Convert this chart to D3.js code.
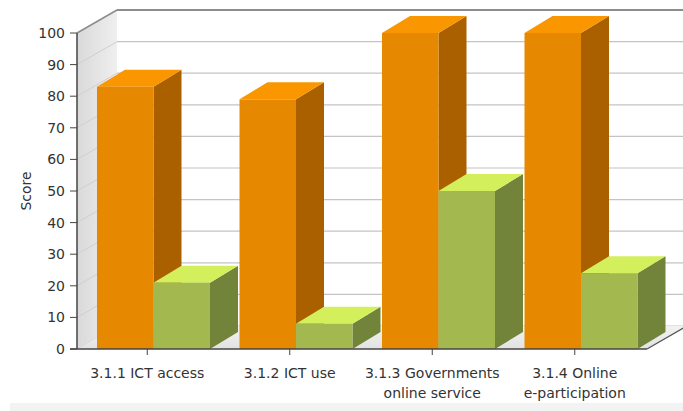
<!DOCTYPE html>
<html>
    <head>
        <meta charset='utf-8'>
        <title>Score 3D bars</title>
        <script src='https://cdn.jsdelivr.net/npm/d3@7/dist/d3.min.js'></script>
        <style>
            body { margin:0; background:#fff; }
            svg text { font-family:"DejaVu Sans", Verdana, sans-serif; fill:#333; }
        </style>
    </head>
    <body>
        <div id='chart'></div>
        <script>
            // data
            var categories = ["3.1.1 ICT access", "3.1.2 ICT use", "3.1.3 Governments online service", "3.1.4 Online e-participation"];
            var categoryLines = [["3.1.1 ICT access"], ["3.1.2 ICT use"], ["3.1.3 Governments", "online service"], ["3.1.4 Online", "e-participation"]];
            var orangeValues = [83, 79, 100, 100];
            var greenValues = [21, 8, 50, 24];
            var yTicks = [0, 10, 20, 30, 40, 50, 60, 70, 80, 90, 100];

            var w = 683;
            var h = 411;
            // note: "top" is taken by window.top, so plot edges get their own names
            var plotL = 77, plotR = 647, plotT = 33, plotB = 349;
            var depthX = 40, depthY = -23;   // wall depth
            var barDX = 28, barDY = -17;     // bar depth

            var svg = d3.select("#chart")
                        .append("svg")
                        .attr("width", w)
                        .attr("height", h);

            var y = d3.scaleLinear().domain([0, 100]).range([plotB, plotT]);
            var x = d3.scaleBand().domain(categories).range([plotL, plotR]).padding(0);
            var bw = 56.5, barOff = 20;

            var line = d3.line();

            // faint band at the very bottom
            svg.append("rect").attr("x", 10).attr("y", 403).attr("width", w - 10).attr("height", 8)
                .attr("fill", "#f3f3f3");

            var defs = svg.append("defs");
            var wallGrad = defs.append("linearGradient").attr("id", "wallGrad")
                .attr("x1", "0%").attr("x2", "100%");
            wallGrad.append("stop").attr("offset", "0%").attr("stop-color", "#d9d9d9");
            wallGrad.append("stop").attr("offset", "100%").attr("stop-color", "#efefef");
            var floorGrad = defs.append("linearGradient").attr("id", "floorGrad")
                .attr("x1", "0%").attr("x2", "0%").attr("y1", "0%").attr("y2", "100%");
            floorGrad.append("stop").attr("offset", "0%").attr("stop-color", "#f2f2f2");
            floorGrad.append("stop").attr("offset", "100%").attr("stop-color", "#e2e2e2");

            // back wall
            svg.append("rect")
                .attr("x", plotL + depthX).attr("y", plotT + depthY)
                .attr("width", w - plotL - depthX).attr("height", plotB - plotT)
                .attr("fill", "#fff");

            svg.selectAll("line.grid")
                .data(yTicks.slice(0, -1))
                .enter()
                .append("line")
                .attr("class", "grid")
                .attr("x1", plotL + depthX).attr("x2", w)
                .attr("y1", function(d) { return y(d) + depthY; })
                .attr("y2", function(d) { return y(d) + depthY; })
                .attr("stroke", "#c4c4c4").attr("stroke-width", 1.2);

            // top edge of back wall
            svg.append("line")
                .attr("x1", plotL + depthX).attr("x2", w)
                .attr("y1", y(100) + depthY).attr("y2", y(100) + depthY)
                .attr("stroke", "#8c8c8c").attr("stroke-width", 2);

            // left wall
            svg.append("path")
                .attr("d", line([[plotL, plotT], [plotL + depthX, plotT + depthY], [plotL + depthX, plotB + depthY], [plotL, plotB]]) + "Z")
                .attr("fill", "url(#wallGrad)");

            svg.selectAll("line.sidegrid")
                .data(yTicks)
                .enter()
                .append("line")
                .attr("class", "sidegrid")
                .attr("x1", plotL).attr("x2", plotL + depthX)
                .attr("y1", function(d) { return y(d); })
                .attr("y2", function(d) { return y(d) + depthY; })
                .attr("stroke", function(d) { return d === 100 ? "#8c8c8c" : "#cfcfcf"; })
                .attr("stroke-width", function(d) { return d === 100 ? 1.5 : 1; });

            // floor
            svg.append("path")
                .attr("d", line([[plotL, plotB], [plotR, plotB], [plotR + depthX, plotB + depthY], [plotL + depthX, plotB + depthY]]) + "Z")
                .attr("fill", "url(#floorGrad)");

            svg.append("line")
                .attr("x1", plotR).attr("y1", plotB)
                .attr("x2", plotR + depthX).attr("y2", plotB + depthY)
                .attr("stroke", "#555").attr("stroke-width", 1.3);

            // 3D bars
            function drawBar(g, x0, v, colors) {
                var x1 = x0 + bw;
                var yt = y(v);
                g.append("path")   // side
                    .attr("d", line([[x1, yt], [x1 + barDX, yt + barDY], [x1 + barDX, plotB + barDY], [x1, plotB]]) + "Z")
                    .attr("fill", colors.side);
                g.append("path")   // top
                    .attr("d", line([[x0, yt], [x1, yt], [x1 + barDX, yt + barDY], [x0 + barDX, yt + barDY]]) + "Z")
                    .attr("fill", colors.top);
                g.append("rect")   // front
                    .attr("x", x0).attr("y", yt)
                    .attr("width", bw).attr("height", plotB - yt)
                    .attr("fill", colors.front);
            }

            var orange = {front: "#e78900", top: "#fa9700", side: "#ab6000"};
            var green = {front: "#a3b94f", top: "#d3ef5c", side: "#71843a"};

            var bars = svg.append("g");
            categories.forEach(function(c, i) {
                var x0 = x(c) + barOff;
                drawBar(bars, x0, orangeValues[i], orange);
                drawBar(bars, x0 + bw, greenValues[i], green);
            });

            // axes
            svg.append("line")
                .attr("x1", plotL).attr("x2", plotL).attr("y1", plotT).attr("y2", plotB)
                .attr("stroke", "#444").attr("stroke-width", 1.5);
            svg.append("line")
                .attr("x1", plotL - 7).attr("x2", plotR).attr("y1", plotB).attr("y2", plotB)
                .attr("stroke", "#444").attr("stroke-width", 1.5);

            svg.selectAll("line.ytick")
                .data(yTicks)
                .enter()
                .append("line")
                .attr("class", "ytick")
                .attr("x1", plotL - 7).attr("x2", plotL)
                .attr("y1", function(d) { return y(d); })
                .attr("y2", function(d) { return y(d); })
                .attr("stroke", "#444");

            svg.selectAll("text.ytick")
                .data(yTicks)
                .enter()
                .append("text")
                .attr("class", "ytick")
                .attr("x", 65)
                .attr("y", function(d) { return y(d) + 5; })
                .attr("text-anchor", "end")
                .attr("font-size", "14px")
                .text(function(d) { return d; });

            svg.selectAll("line.xtick")
                .data(categories)
                .enter()
                .append("line")
                .attr("class", "xtick")
                .attr("x1", function(d) { return x(d) + x.bandwidth() / 2 - 1; })
                .attr("x2", function(d) { return x(d) + x.bandwidth() / 2 - 1; })
                .attr("y1", plotB).attr("y2", plotB + 6)
                .attr("stroke", "#444");

            var xl = svg.selectAll("text.xlab")
                .data(categories)
                .enter()
                .append("text")
                .attr("class", "xlab")
                .attr("text-anchor", "middle")
                .attr("font-size", "14px");

            xl.selectAll("tspan")
                .data(function(d, i) { return categoryLines[i].map(function(t) { return {c: d, t: t}; }); })
                .enter()
                .append("tspan")
                .attr("x", function(d) { return x(d.c) + x.bandwidth() / 2 - 1; })
                .attr("y", function(d, j) { return 378 + j * 19.5; })
                .text(function(d) { return d.t; });

            svg.append("text")
                .attr("transform", "translate(31,191) rotate(-90)")
                .attr("text-anchor", "middle")
                .attr("font-size", "14px")
                .text("Score");
        </script>
    </body>
</html>
